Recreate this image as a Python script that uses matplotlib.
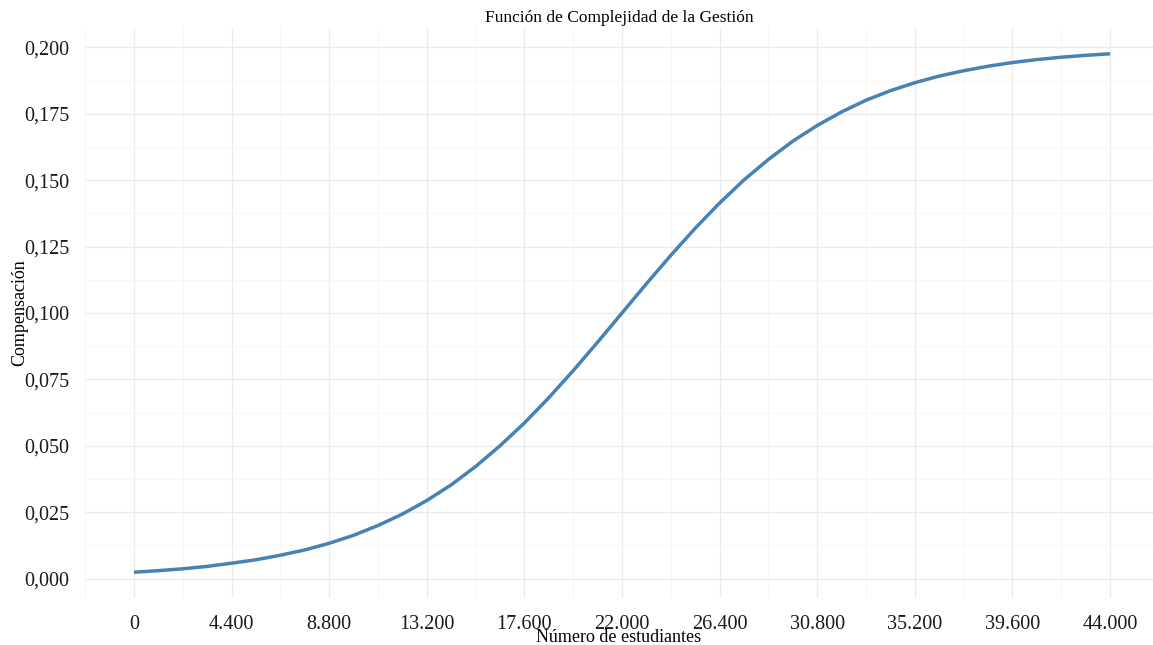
import matplotlib
matplotlib.use('Agg')
import matplotlib.pyplot as plt
from matplotlib.ticker import FuncFormatter, MultipleLocator

# number of students (x) and compensation
estudiantes = [0, 1100, 2200, 3300, 4400, 5500, 6600, 7700, 8800, 9900,
               11000, 12100, 13200, 14300, 15400, 16500, 17600, 18700, 19800, 20900,
               22000, 23100, 24200, 25300, 26400, 27500, 28600, 29700, 30800, 31900,
               33000, 34100, 35200, 36300, 37400, 38500, 39600, 40700, 41800, 42900, 44000]
compensacion = [0.0024, 0.0030, 0.0037, 0.0046, 0.0058, 0.0071, 0.0088, 0.0108, 0.0133, 0.0163,
                0.0200, 0.0243, 0.0294, 0.0353, 0.0422, 0.0500, 0.0586, 0.0681, 0.0783, 0.0890,
                0.1000, 0.1110, 0.1217, 0.1319, 0.1414, 0.1501, 0.1578, 0.1647, 0.1706, 0.1757,
                0.1801, 0.1837, 0.1867, 0.1892, 0.1912, 0.1929, 0.1943, 0.1954, 0.1963, 0.1970, 0.1976]

x_ticks = [0, 4400, 8800, 13200, 17600, 22000, 26400, 30800, 35200, 39600, 44000]
y_ticks = [0.0, 0.025, 0.05, 0.075, 0.1, 0.125, 0.15, 0.175, 0.2]

plt.rcParams['font.family'] = ['Liberation Serif', 'DejaVu Serif']

fig = plt.figure(figsize=(11.53, 6.45), dpi=100)
ax = fig.add_axes([85 / 1153, 1 - 598 / 645, 1 - 85 / 1153, (598 - 28) / 645])

ax.plot(estudiantes, compensacion, color='#4682B4', lw=2.5, solid_capstyle='butt',
        solid_joinstyle='round', zorder=3)

ax.set_xlim(-2209, 45939)
ax.set_ylim(-0.0073, 0.2073)
ax.set_xticks(x_ticks)
ax.set_yticks(y_ticks)
ax.xaxis.set_minor_locator(MultipleLocator(2200))
ax.yaxis.set_minor_locator(MultipleLocator(0.0125))

ax.xaxis.set_major_formatter(FuncFormatter(lambda v, p: f'{int(round(v)):,}'.replace(',', '.')))
ax.yaxis.set_major_formatter(FuncFormatter(lambda v, p: f'{v:.3f}'.replace('.', ',')))

ax.grid(which='major', color='#EBEBEB', lw=1.0)
ax.grid(which='minor', color='#F5F5F5', lw=0.6)
ax.set_axisbelow(True)
for s in ax.spines.values():
    s.set_visible(False)
ax.tick_params(which='both', length=0)
ax.tick_params(axis='both', labelsize=14.5, colors='#1A1A1A')
ax.tick_params(axis='y', pad=11)
ax.tick_params(axis='x', pad=12)

ax.set_title('Función de Complejidad de la Gestión', fontsize=12.5, pad=4)
ax.set_xlabel('Número de estudiantes', fontsize=13, labelpad=-3)
ax.set_ylabel('Compensación', fontsize=13, labelpad=-3)

fig.savefig('out.png', dpi=100)
